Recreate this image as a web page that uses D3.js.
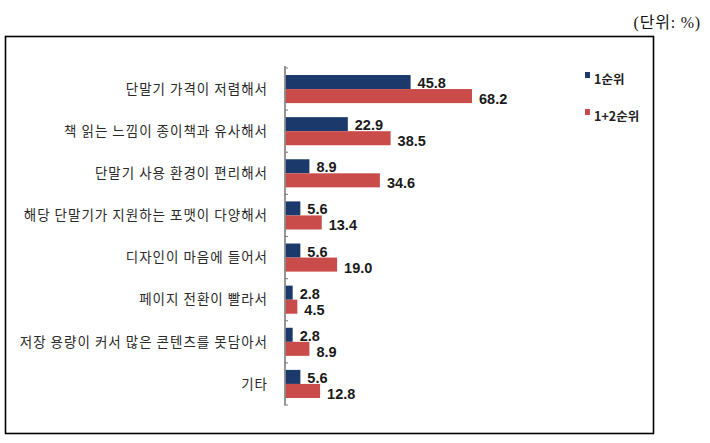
<!DOCTYPE html>
<html>
<head>
<meta charset="utf-8">
<script src="https://cdn.jsdelivr.net/npm/d3@7"></script>
<style>
  body { margin: 0; background: #fff; }
</style>
</head>
<body>
<div id="chart"></div>
<script>
  var categories = [
    "단말기 가격이 저렴해서",
    "책 읽는 느낌이 종이책과 유사해서",
    "단말기 사용 환경이 편리해서",
    "해당 단말기가 지원하는 포맷이 다양해서",
    "디자인이 마음에 들어서",
    "페이지 전환이 빨라서",
    "저장 용량이 커서 많은 콘텐츠를 못담아서",
    "기타"
  ];
  var seriesNames = ["1순위", "1+2순위"];
  var rank1 = [45.8, 22.9, 8.9, 5.6, 5.6, 2.8, 2.8, 5.6];
  var rank12 = [68.2, 38.5, 34.6, 13.4, 19.0, 4.5, 8.9, 12.8];
  var colors = ["#1b3a6b", "#c94c4b"];
  var unitLabel = "(단위: %)";

  var chart = {

    init: function(){

      this.svg = d3.select('#chart')
                    .append('svg')
                    .attr('width', 710)
                    .attr('height', 443)
                    .style('background-color', 'white');

      // frame
      this.svg.append('rect')
              .attr('x', 5.5).attr('y', 36.5)
              .attr('width', 648).attr('height', 397)
              .style('fill', 'none')
              .style('stroke', '#000')
              .style('stroke-width', 1.6);

      this.svg.append('text')
              .attr('x', 701).attr('y', 28)
              .attr('text-anchor', 'end')
              .style('font-family', '"Liberation Serif", "Noto Sans CJK KR", serif')
              .style('font-size', '16px')
              .style('letter-spacing', '0.8px')
              .style('fill', '#111')
              .text(unitLabel);

      var x = d3.scaleLinear().domain([0, 80]).range([285, 504.4]);
      var y = d3.scaleBand().domain(categories).range([68, 405])
                .paddingInner(1/3).paddingOuter(1/6);
      var inner = d3.scaleBand().domain(seriesNames).range([0, y.bandwidth()]);

      var rows = categories.map(function(c, i){
        return [
          { cat: c, s: seriesNames[0], v: rank1[i], k: 0 },
          { cat: c, s: seriesNames[1], v: rank12[i], k: 1 }
        ];
      });

      var group = this.svg.selectAll('.grp')
                    .data(rows)
                    .enter().append('g').attr('class', 'grp')
                    .attr('transform', function(d){ return 'translate(0,' + y(d[0].cat) + ')'; });

      group.selectAll('rect')
            .data(function(d){ return d; })
            .enter().append('rect')
            .attr('x', x(0))
            .attr('y', function(d){ return inner(d.s); })
            .attr('width', function(d){ return x(d.v) - x(0); })
            .attr('height', inner.bandwidth())
            .style('fill', function(d){ return colors[d.k]; });

      group.selectAll('.val')
            .data(function(d){ return d; })
            .enter().append('text').attr('class', 'val')
            .attr('x', function(d){ return x(d.v) + 7; })
            .attr('y', function(d){ return inner(d.s) + inner.bandwidth() + (d.k ? 1 : -1); })
            .style('font-family', '"Liberation Sans", Arial, sans-serif')
            .style('font-weight', 'bold')
            .style('font-size', '14.5px')
            .style('fill', '#1a1a1a')
            .text(function(d){ return d.v.toFixed(1); });

      // category labels
      this.svg.selectAll('.cat')
              .data(categories)
              .enter().append('text').attr('class', 'cat')
              .attr('x', 268)
              .attr('y', function(d){ return y(d) + y.bandwidth() / 2; })
              .attr('dy', '0.35em')
              .attr('text-anchor', 'end')
              .style('font-family', '"Noto Sans CJK KR", sans-serif')
              .style('font-size', '13.5px')
              .style('letter-spacing', '1px')
              .style('fill', '#2a2a2a')
              .text(function(d){ return d; });

      // axis with ticks between categories
      var step = y.step();
      var tickYs = d3.range(categories.length + 1).map(function(i){ return 68 + i * step; });
      this.svg.append('line')
              .attr('x1', x(0)).attr('x2', x(0))
              .attr('y1', 66).attr('y2', 405)
              .style('stroke', '#8a8a8a')
              .style('stroke-width', 1.8);
      this.svg.selectAll('.tick')
              .data(tickYs)
              .enter().append('line').attr('class', 'tick')
              .attr('x1', x(0) - 1).attr('x2', x(0) + 3)
              .attr('y1', function(d){ return d; })
              .attr('y2', function(d){ return d; })
              .style('stroke', '#8a8a8a')
              .style('stroke-width', 1.2);

      // legend
      var legend = this.svg.selectAll('.leg')
                    .data(seriesNames)
                    .enter().append('g').attr('class', 'leg')
                    .attr('transform', function(d, i){ return 'translate(585,' + (72 + i * 37) + ')'; });
      legend.append('rect')
            .attr('width', 5).attr('height', 6)
            .style('fill', function(d, i){ return colors[i]; });
      legend.append('text')
            .attr('x', 9).attr('y', 8)
            .attr('dy', '0.35em')
            .style('font-family', '"Noto Sans CJK KR", sans-serif')
            .style('font-weight', 'bold')
            .style('font-size', '12.5px')
            .style('fill', '#222')
            .text(function(d){ return d; });
    }

  };

  chart.init();
</script>
</body>
</html>
